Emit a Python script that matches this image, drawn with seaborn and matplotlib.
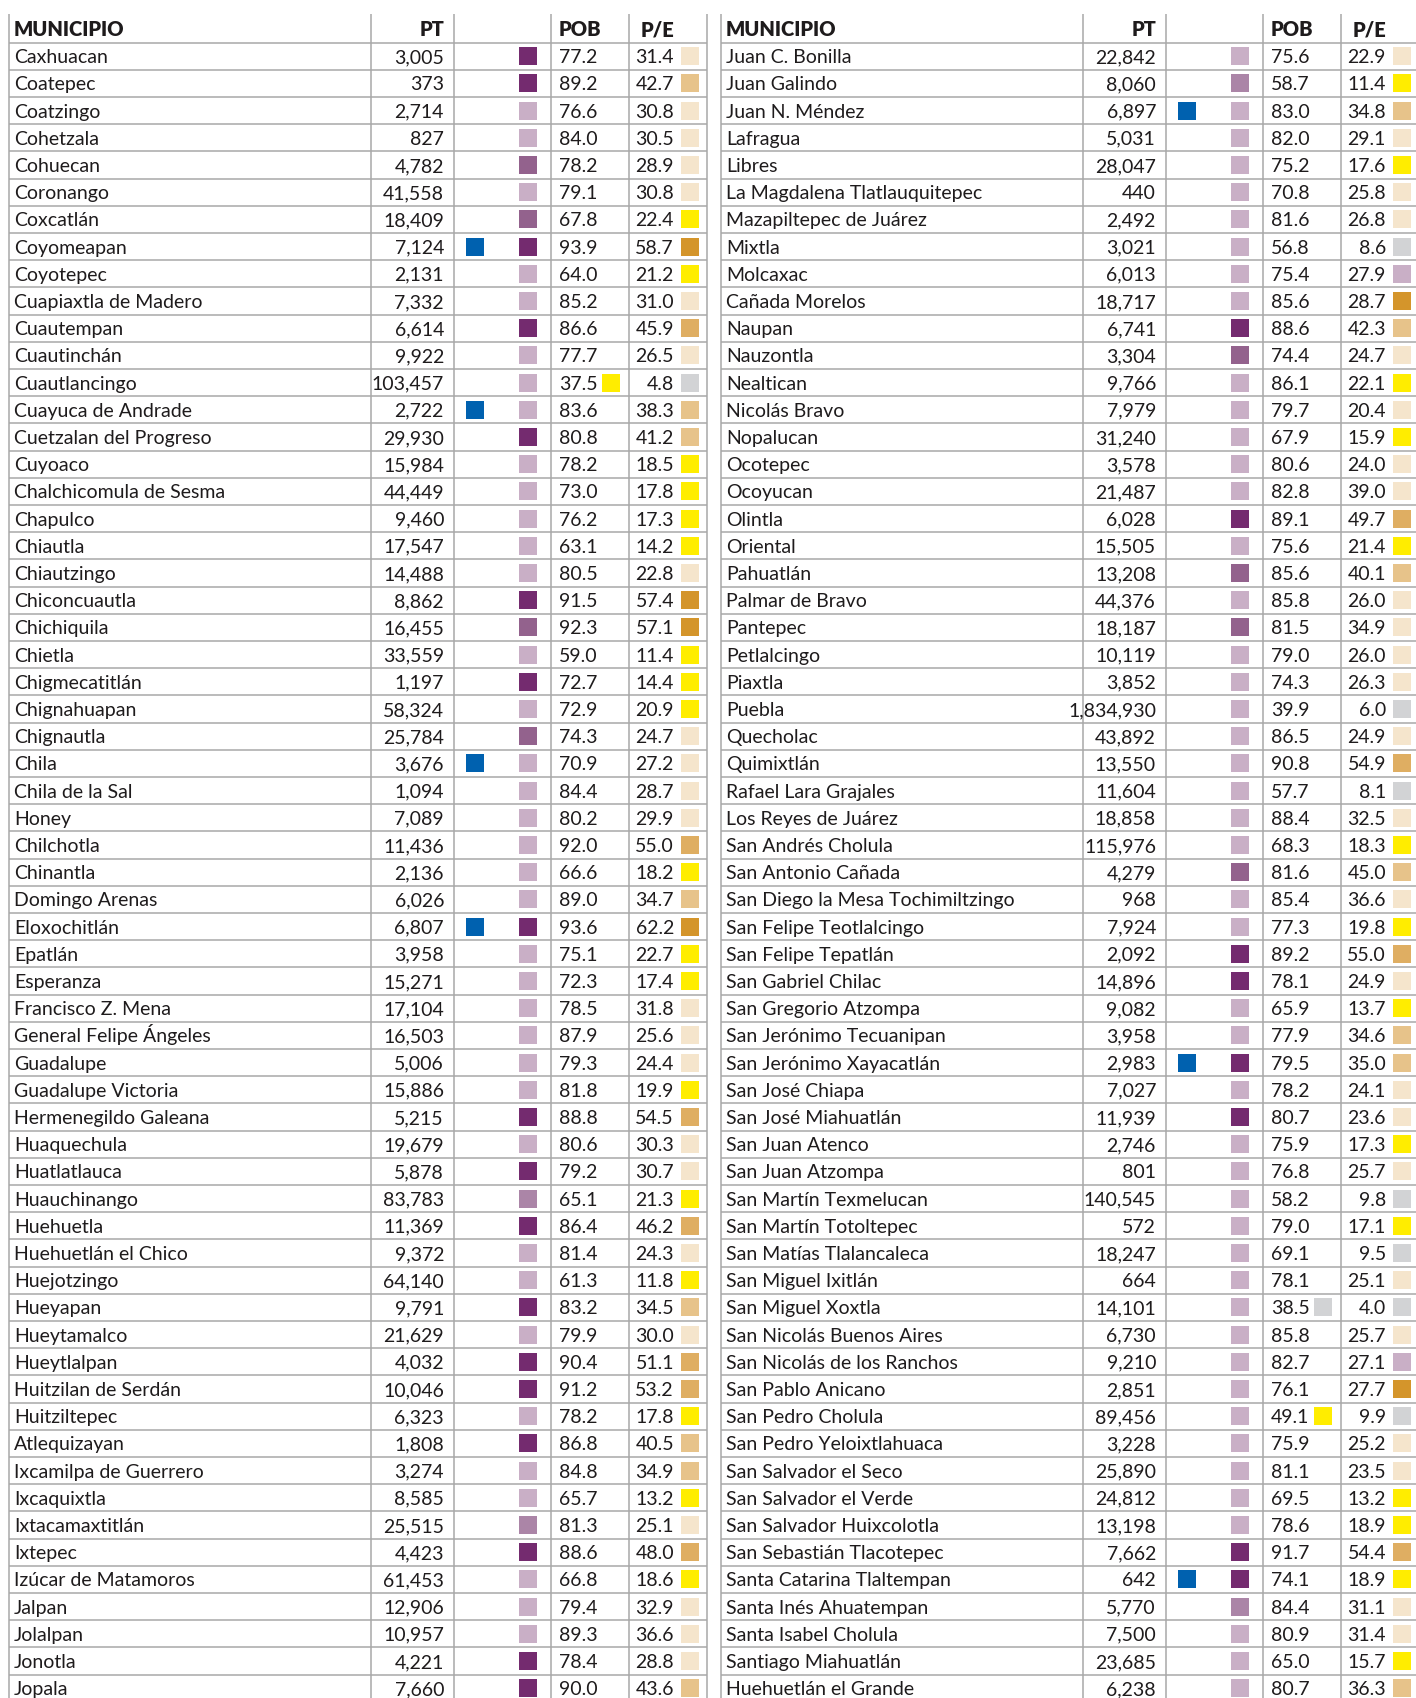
import pandas as pd
import seaborn as sns
import matplotlib.pyplot as plt

# ---- data: left table ----
municipio_izq = [
    "Caxhuacan", "Coatepec", "Coatzingo", "Cohetzala", "Cohuecan", "Coronango", "Coxcatlán",
    "Coyomeapan", "Coyotepec", "Cuapiaxtla de Madero", "Cuautempan", "Cuautinchán",
    "Cuautlancingo", "Cuayuca de Andrade", "Cuetzalan del Progreso", "Cuyoaco",
    "Chalchicomula de Sesma", "Chapulco", "Chiautla", "Chiautzingo", "Chiconcuautla",
    "Chichiquila", "Chietla", "Chigmecatitlán", "Chignahuapan", "Chignautla", "Chila",
    "Chila de la Sal", "Honey", "Chilchotla", "Chinantla", "Domingo Arenas", "Eloxochitlán",
    "Epatlán", "Esperanza", "Francisco Z. Mena", "General Felipe Ángeles", "Guadalupe",
    "Guadalupe Victoria", "Hermenegildo Galeana", "Huaquechula", "Huatlatlauca",
    "Huauchinango", "Huehuetla", "Huehuetlán el Chico", "Huejotzingo", "Hueyapan",
    "Hueytamalco", "Hueytlalpan", "Huitzilan de Serdán", "Huitziltepec", "Atlequizayan",
    "Ixcamilpa de Guerrero", "Ixcaquixtla", "Ixtacamaxtitlán", "Ixtepec",
    "Izúcar de Matamoros", "Jalpan", "Jolalpan", "Jonotla", "Jopala",
]
pt_izq = [
    3005, 373, 2714, 827, 4782, 41558, 18409, 7124, 2131, 7332, 6614, 9922, 103457, 2722,
    29930, 15984, 44449, 9460, 17547, 14488, 8862, 16455, 33559, 1197, 58324, 25784, 3676,
    1094, 7089, 11436, 2136, 6026, 6807, 3958, 15271, 17104, 16503, 5006, 15886, 5215,
    19679, 5878, 83783, 11369, 9372, 64140, 9791, 21629, 4032, 10046, 6323, 1808, 3274,
    8585, 25515, 4423, 61453, 12906, 10957, 4221, 7660,
]
pob_izq = [
    77.2, 89.2, 76.6, 84.0, 78.2, 79.1, 67.8, 93.9, 64.0, 85.2, 86.6, 77.7, 37.5, 83.6,
    80.8, 78.2, 73.0, 76.2, 63.1, 80.5, 91.5, 92.3, 59.0, 72.7, 72.9, 74.3, 70.9, 84.4,
    80.2, 92.0, 66.6, 89.0, 93.6, 75.1, 72.3, 78.5, 87.9, 79.3, 81.8, 88.8, 80.6, 79.2,
    65.1, 86.4, 81.4, 61.3, 83.2, 79.9, 90.4, 91.2, 78.2, 86.8, 84.8, 65.7, 81.3, 88.6,
    66.8, 79.4, 89.3, 78.4, 90.0,
]
pe_izq = [
    31.4, 42.7, 30.8, 30.5, 28.9, 30.8, 22.4, 58.7, 21.2, 31.0, 45.9, 26.5, 4.8, 38.3,
    41.2, 18.5, 17.8, 17.3, 14.2, 22.8, 57.4, 57.1, 11.4, 14.4, 20.9, 24.7, 27.2, 28.7,
    29.9, 55.0, 18.2, 34.7, 62.2, 22.7, 17.4, 31.8, 25.6, 24.4, 19.9, 54.5, 30.3, 30.7,
    21.3, 46.2, 24.3, 11.8, 34.5, 30.0, 51.1, 53.2, 17.8, 40.5, 34.9, 13.2, 25.1, 48.0,
    18.6, 32.9, 36.6, 28.8, 43.6,
]
# purple level: d dark, m medium, q medium-light, l light
nivel_izq = list("ddllmlmdll" "dllldlllll" "dmldlmllll" "lldlllllld" "ldqdlldldd" "ldllqdllld" "d")
# P/E colour: b beige, t tan, k dark tan, o orange, y yellow, g grey, p lilac
pecol_izq = list("btbbbbyoyb" "kbgttyyyyb" "ooyyybbbbk" "ytoyybbbyk" "bbykbytbkk" "yttybkybbb" "t")
azul_izq = [8, 14, 27, 33]
pobcol_izq = {13: "y"}

# ---- data: right table ----
municipio_der = [
    "Juan C. Bonilla", "Juan Galindo", "Juan N. Méndez", "Lafragua", "Libres",
    "La Magdalena Tlatlauquitepec", "Mazapiltepec de Juárez", "Mixtla", "Molcaxac",
    "Cañada Morelos", "Naupan", "Nauzontla", "Nealtican", "Nicolás Bravo", "Nopalucan",
    "Ocotepec", "Ocoyucan", "Olintla", "Oriental", "Pahuatlán", "Palmar de Bravo",
    "Pantepec", "Petlalcingo", "Piaxtla", "Puebla", "Quecholac", "Quimixtlán",
    "Rafael Lara Grajales", "Los Reyes de Juárez", "San Andrés Cholula", "San Antonio Cañada",
    "San Diego la Mesa Tochimiltzingo", "San Felipe Teotlalcingo", "San Felipe Tepatlán",
    "San Gabriel Chilac", "San Gregorio Atzompa", "San Jerónimo Tecuanipan",
    "San Jerónimo Xayacatlán", "San José Chiapa", "San José Miahuatlán", "San Juan Atenco",
    "San Juan Atzompa", "San Martín Texmelucan", "San Martín Totoltepec",
    "San Matías Tlalancaleca", "San Miguel Ixitlán", "San Miguel Xoxtla",
    "San Nicolás Buenos Aires", "San Nicolás de los Ranchos", "San Pablo Anicano",
    "San Pedro Cholula", "San Pedro Yeloixtlahuaca", "San Salvador el Seco",
    "San Salvador el Verde", "San Salvador Huixcolotla", "San Sebastián Tlacotepec",
    "Santa Catarina Tlaltempan", "Santa Inés Ahuatempan", "Santa Isabel Cholula",
    "Santiago Miahuatlán", "Huehuetlán el Grande",
]
pt_der = [
    22842, 8060, 6897, 5031, 28047, 440, 2492, 3021, 6013, 18717, 6741, 3304, 9766, 7979,
    31240, 3578, 21487, 6028, 15505, 13208, 44376, 18187, 10119, 3852, 1834930, 43892,
    13550, 11604, 18858, 115976, 4279, 968, 7924, 2092, 14896, 9082, 3958, 2983, 7027,
    11939, 2746, 801, 140545, 572, 18247, 664, 14101, 6730, 9210, 2851, 89456, 3228,
    25890, 24812, 13198, 7662, 642, 5770, 7500, 23685, 6238,
]
pob_der = [
    75.6, 58.7, 83.0, 82.0, 75.2, 70.8, 81.6, 56.8, 75.4, 85.6, 88.6, 74.4, 86.1, 79.7,
    67.9, 80.6, 82.8, 89.1, 75.6, 85.6, 85.8, 81.5, 79.0, 74.3, 39.9, 86.5, 90.8, 57.7,
    88.4, 68.3, 81.6, 85.4, 77.3, 89.2, 78.1, 65.9, 77.9, 79.5, 78.2, 80.7, 75.9, 76.8,
    58.2, 79.0, 69.1, 78.1, 38.5, 85.8, 82.7, 76.1, 49.1, 75.9, 81.1, 69.5, 78.6, 91.7,
    74.1, 84.4, 80.9, 65.0, 80.7,
]
pe_der = [
    22.9, 11.4, 34.8, 29.1, 17.6, 25.8, 26.8, 8.6, 27.9, 28.7, 42.3, 24.7, 22.1, 20.4,
    15.9, 24.0, 39.0, 49.7, 21.4, 40.1, 26.0, 34.9, 26.0, 26.3, 6.0, 24.9, 54.9, 8.1,
    32.5, 18.3, 45.0, 36.6, 19.8, 55.0, 24.9, 13.7, 34.6, 35.0, 24.1, 23.6, 17.3, 25.7,
    9.8, 17.1, 9.5, 25.1, 4.0, 25.7, 27.1, 27.7, 9.9, 25.2, 23.5, 13.2, 18.9, 54.4, 18.9,
    31.1, 31.4, 15.7, 36.3,
]
nivel_der = list("lqllllllll" "dmllllldlm" "lmllllllll" "mllddlldld" "llllllllll" "lllllddqll" "l")
pecol_der = list("bytbybbgpo" "tbybybbkyt" "bbbbgbkgby" "tbykbyttbb" "ybgygbgbpo" "gbbyykybby" "t")
azul_der = [3, 38, 57]
pobcol_der = {47: "g", 51: "y"}

columnas = ["MUNICIPIO", "PT", "", "POB", "P/E"]

colores = {
    "d": "#742B6F", "m": "#93628D", "q": "#AB85A7", "l": "#C9AFC6", "azul": "#0061AF",
    "b": "#F5E5CC", "t": "#E7C38A", "k": "#DFAE62", "o": "#D4952B", "y": "#FFED00",
    "g": "#D2D3D5", "p": "#C9AFC6",
}

# layout (pixel columns, rows in row units)
TABLA_X = [9, 721]
ROW0_PX, ROW_PX = 29.0, 27.2
LINEAS = [0, 362, 445, 542, 620, 698]
TXT = "#1E1B1C"
GRID = "#A8A8A8"
FS = 14

sns.set_theme(style="white")
plt.rcParams["font.family"] = ["Lato", "DejaVu Sans"]

fig = plt.figure(figsize=(14.16, 16.98), dpi=100)
ax = fig.add_axes([0, 0, 1, 1])

tablas = [
    (municipio_izq, pt_izq, pob_izq, pe_izq, nivel_izq, pecol_izq, azul_izq, pobcol_izq),
    (municipio_der, pt_der, pob_der, pe_der, nivel_der, pecol_der, azul_der, pobcol_der),
]

cuadros = []
for x0, (nom, pt, pob, pe, niv, pec, azul, pobc) in zip(TABLA_X, tablas):
    n = len(nom)
    # grid
    ax.hlines([r + 0.5 for r in range(n + 1)], x0, x0 + LINEAS[-1], color=GRID, lw=1.1, zorder=1)
    ax.vlines([x0 + v for v in LINEAS], -0.55, n + 1, color=GRID, lw=1.1, zorder=1)
    # header
    hy = 0.27
    hdr = dict(va="baseline", fontsize=FS + 0.5, fontweight="heavy", color=TXT)
    ax.text(x0 + 5, hy, columnas[0], ha="left", **hdr)
    ax.text(x0 + 435, hy, columnas[1], ha="right", **hdr)
    ax.text(x0 + 550, hy, columnas[3], ha="left", **hdr)
    ax.text(x0 + 632, hy, columnas[4], ha="left", **hdr)
    for i in range(n):
        r = i + 1
        y = r + 0.26
        ax.text(x0 + 5, y, nom[i], ha="left", va="baseline", fontsize=FS, color=TXT)
        ax.text(x0 + 435, y, f"{pt[i]:,}", ha="right", va="baseline", fontsize=FS, color=TXT)
        ax.text(x0 + 550, y, f"{pob[i]:.1f}", ha="left", va="baseline", fontsize=FS, color=TXT)
        ax.text(x0 + 665, y, f"{pe[i]:.1f}", ha="right", va="baseline", fontsize=FS, color=TXT)
        cuadros.append({"x": x0 + 519, "y": r, "c": niv[i]})
        cuadros.append({"x": x0 + 681, "y": r, "c": pec[i]})
        if r in azul:
            cuadros.append({"x": x0 + 466, "y": r, "c": "azul"})
        if r in pobc:
            cuadros.append({"x": x0 + 602, "y": r, "c": pobc[r]})

df = pd.DataFrame(cuadros)
sns.scatterplot(data=df, x="x", y="y", hue="c", palette=colores, marker="s", s=165,
                linewidth=0, legend=False, ax=ax, zorder=3)
ax.set_xlim(0, 1416)
ax.set_ylim((1698 - ROW0_PX) / ROW_PX, -ROW0_PX / ROW_PX)
ax.axis("off")

fig.savefig("out.png", dpi=100)
